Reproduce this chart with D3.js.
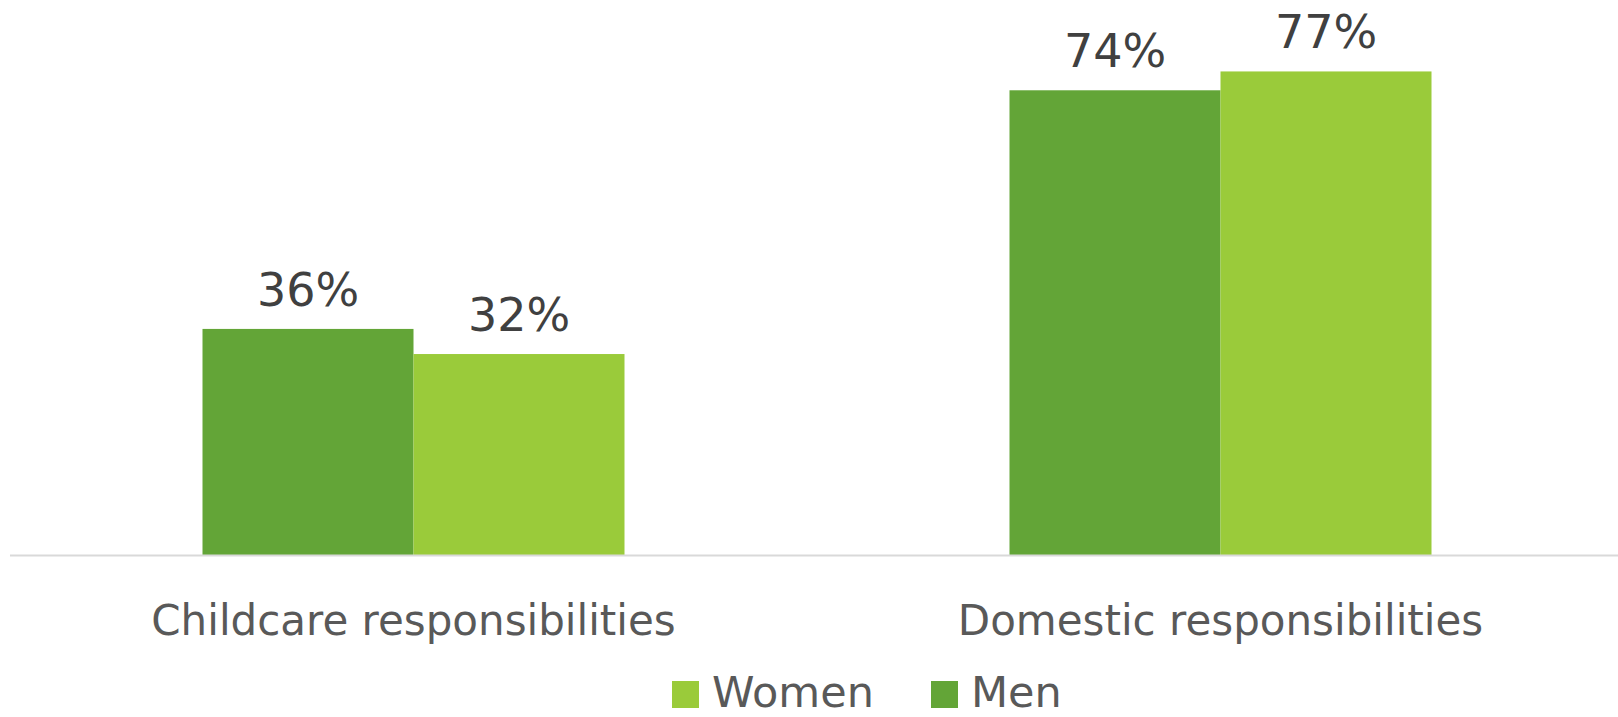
<!DOCTYPE html>
<html><head><meta charset="utf-8">
<script src="https://cdn.jsdelivr.net/npm/d3@7"></script>
<style>body{margin:0;background:#fff;}svg{display:block;font-family:"DejaVu Sans",sans-serif;}</style>
</head><body>
<svg id="c" width="1618" height="717"></svg>
<script>
const categories = ["Childcare responsibilities", "Domestic responsibilities"];
const seriesNames = ["Men", "Women"];
const menValues = [36, 74];
const womenValues = [32, 77];
const legendOrder = ["Women", "Men"];
const colors = {Men: "#63A537", Women: "#9ACB3A"};

const svg = d3.select("#c");
const baseY = 555;
const groupW = 422;
const x0 = d3.scaleBand().domain(categories).range([10, 1624]);
const x1 = d3.scaleBand().domain(seriesNames).range([0, groupW]);
const y = d3.scaleLinear().domain([0, 100]).range([baseY, baseY - 628]);

const data = categories.map((c, i) => ({cat: c, vals: [{s: "Men", v: menValues[i]}, {s: "Women", v: womenValues[i]}]}));

const g = svg.append("g");
const grp = g.selectAll("g.cat").data(data).join("g")
  .attr("transform", d => `translate(${x0(d.cat) + x0.bandwidth()/2 - groupW/2},0)`);
grp.selectAll("rect").data(d => d.vals).join("rect")
  .attr("x", d => x1(d.s)).attr("width", x1.bandwidth())
  .attr("y", d => y(d.v)).attr("height", d => y(0) - y(d.v))
  .attr("fill", d => colors[d.s]);
grp.selectAll("text").data(d => d.vals).join("text")
  .attr("x", d => x1(d.s) + x1.bandwidth()/2)
  .attr("y", d => y(d.v) - 23)
  .attr("text-anchor", "middle")
  .attr("font-size", 46).attr("fill", "#404040")
  .text(d => d.v + "%");

g.append("line").attr("x1", 10).attr("x2", 1618).attr("y1", baseY + 0.5).attr("y2", baseY + 0.5)
  .attr("stroke", "#d9d9d9").attr("stroke-width", 2);

const xAxis = d3.axisBottom(x0).tickSize(0).tickPadding(0);
const ax = svg.append("g").attr("transform", `translate(0,${baseY})`).call(xAxis);
ax.select(".domain").remove();
ax.selectAll("text").attr("font-size", 42).attr("fill", "#595959")
  .attr("font-family", "DejaVu Sans").attr("dy", 0).attr("y", 80);

const leg = svg.append("g");
const legX = {Women: 672, Men: 931};
legendOrder.forEach(s => {
  leg.append("rect").attr("x", legX[s]).attr("y", 681).attr("width", 27).attr("height", 27).attr("fill", colors[s]);
  leg.append("text").attr("x", legX[s] + 40).attr("y", 707).attr("font-size", 43).attr("fill", "#595959").text(s);
});
</script>
</body></html>
